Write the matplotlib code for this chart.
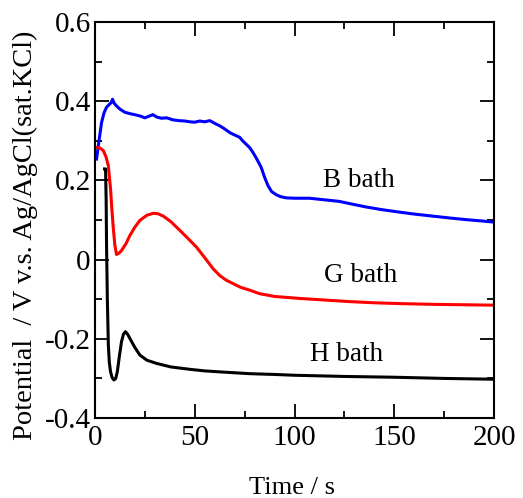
import matplotlib
matplotlib.use('Agg')
import matplotlib.pyplot as plt
from matplotlib.ticker import MultipleLocator

plt.rcParams['font.family'] = ['Liberation Serif', 'DejaVu Serif']

# B bath potential transient
b_time = [0.8, 2.0, 3.3, 4.5, 5.8, 7.2, 8.2, 8.8, 9.6, 10.8, 12.5, 15.0, 18.0,
          20.8, 23.0, 25.0, 27.0, 29.0, 31.0, 33.3, 36.0, 39.0, 42.0, 45.0,
          47.5, 50.0, 52.5, 55.0, 57.5, 60.8, 62.5, 65.0, 67.5, 69.0, 72.5,
          74.0, 77.5, 79.0, 81.0, 83.3, 85.0, 86.7, 88.5, 90.8, 93.0, 95.8,
          100.0, 107.5, 115.0, 122.5, 129.0, 135.8, 144.0, 152.5, 160.0,
          169.0, 178.0, 186.0, 193.0, 199.5]
b_volt = [0.254, 0.300, 0.346, 0.370, 0.385, 0.392, 0.397, 0.405, 0.395, 0.388,
          0.380, 0.372, 0.368, 0.365, 0.362, 0.358, 0.362, 0.366, 0.360, 0.357,
          0.358, 0.353, 0.351, 0.350, 0.348, 0.347, 0.350, 0.348, 0.351, 0.342,
          0.338, 0.330, 0.321, 0.317, 0.309, 0.300, 0.283, 0.272, 0.255, 0.233,
          0.208, 0.187, 0.172, 0.164, 0.159, 0.156, 0.155, 0.155, 0.151, 0.147,
          0.140, 0.133, 0.126, 0.120, 0.115, 0.110, 0.105, 0.101, 0.098, 0.095]

# G bath potential transient
g_time = [1.2, 2.5, 4.2, 5.5, 6.7, 7.8, 8.5, 9.2, 10.0, 10.8, 12.0, 13.3,
          15.5, 17.5, 20.0, 22.5, 26.0, 29.2, 31.5, 34.2, 38.0, 42.5, 46.5,
          50.8, 55.0, 59.2, 62.5, 65.8, 69.0, 73.0, 77.5, 82.5, 90.0, 102.5,
          115.0, 127.5, 140.0, 152.5, 170.0, 185.0, 199.5]
g_volt = [0.283, 0.282, 0.275, 0.260, 0.237, 0.179, 0.125, 0.078, 0.035, 0.013,
          0.016, 0.023, 0.040, 0.061, 0.082, 0.099, 0.112, 0.117, 0.116, 0.110,
          0.096, 0.074, 0.054, 0.032, 0.005, -0.023, -0.040, -0.052, -0.060,
          -0.070, -0.077, -0.086, -0.093, -0.098, -0.102, -0.106, -0.109,
          -0.111, -0.113, -0.114, -0.115]

# H bath potential transient
h_time = [4.8, 5.3, 5.6, 5.8, 6.2, 6.7, 7.2, 7.8, 8.6, 9.5, 10.4, 11.2, 12.2,
          13.3, 14.3, 15.3, 16.3, 17.5, 20.0, 22.5, 26.0, 30.8, 38.0, 47.5,
          55.0, 64.2, 77.5, 90.0, 100.0, 125.0, 150.0, 175.0, 199.5]
h_volt = [0.229, 0.229, 0.150, 0.036, -0.100, -0.216, -0.260, -0.283, -0.298,
          -0.304, -0.300, -0.283, -0.245, -0.207, -0.188, -0.182, -0.188,
          -0.199, -0.222, -0.241, -0.254, -0.262, -0.271, -0.277, -0.281,
          -0.284, -0.288, -0.290, -0.292, -0.295, -0.297, -0.300, -0.302]

x_ticks = [0, 50, 100, 150, 200]
y_ticks = [-0.4, -0.2, 0, 0.2, 0.4, 0.6]
y_tick_labels = ['-0.4', '-0.2', '0', '0.2', '0.4', '0.6']

series = [
    (b_time, b_volt, '#0000ff', 'B bath', 132.5, 0.200),
    (g_time, g_volt, '#ff0000', 'G bath', 133.0, -0.040),
    (h_time, h_volt, '#000000', 'H bath', 126.0, -0.240),
]

fig = plt.figure(figsize=(5.23, 4.98), dpi=100)
ax = fig.add_axes([0.1816, 0.1606, 0.763, 0.7952])

for t, v, color, name, lx, ly in series:
    ax.plot(t, v, color=color, lw=2.2)
    ax.text(lx, ly, name, fontsize=19.5, ha='center', va='center')

ax.set_xlim(0, 200)
ax.set_ylim(-0.4, 0.6)
ax.set_xticks(x_ticks)
ax.set_xticklabels([str(x) for x in x_ticks])
ax.set_yticks(y_ticks)
ax.set_yticklabels(y_tick_labels)
ax.xaxis.set_minor_locator(MultipleLocator(25))
ax.yaxis.set_minor_locator(MultipleLocator(0.1))

ax.tick_params(which='both', direction='in', top=True, right=True,
               width=1.3, labelsize=21)
ax.tick_params(which='major', length=10)
ax.tick_params(which='minor', length=5)
ax.tick_params(axis='x', pad=5)
ax.tick_params(axis='y', pad=3)
for sp in ax.spines.values():
    sp.set_linewidth(1.5)

ax.set_xlabel('Time / s', fontsize=19)
ax.set_ylabel('Potential  / V v.s. Ag/AgCl(sat.KCl)', fontsize=20.5)
ax.xaxis.set_label_coords(0.494, -0.148)
ax.yaxis.set_label_coords(-0.142, 0.462)

fig.savefig('out.png', dpi=100)
